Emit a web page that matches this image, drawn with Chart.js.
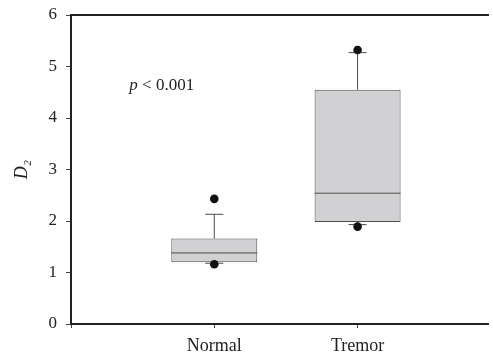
<!DOCTYPE html>
<html>
<head>
<meta charset="utf-8">
<script src="https://cdn.jsdelivr.net/npm/chart.js@4.4.1/dist/chart.umd.min.js"></script>
<style>
  html, body { margin: 0; padding: 0; background: #fff; }
  #wrap { width: 493px; height: 353px; }
</style>
</head>
<body>
<div id="wrap"><canvas id="chart"></canvas></div>
<script>
// box plot summary
const categories = ['Normal', 'Tremor'];
const q1 = [1.20, 1.98];
const median = [1.38, 2.54];
const q3 = [1.66, 4.55];
const whiskerLow = [1.18, 1.93];
const whiskerHigh = [2.13, 5.27];
const outliersLow = [1.16, 1.89];
const outliersHigh = [2.43, 5.32];
const yTicks = [0, 1, 2, 3, 4, 5, 6];

const BOX_HALF = 0.3;
const CAP_HALF = 0.063;
const X_MAX = 2.915;
const INK = '#222';
const LINE = '#4d4d4d';
const SERIF = '"Liberation Serif", "Times New Roman", serif';

// whiskers, caps and medians as one broken line
const segments = [];
categories.forEach((c, i) => {
  const x = i + 1;
  segments.push(
    { x: x - BOX_HALF, y: median[i] }, { x: x + BOX_HALF, y: median[i] }, { x: x, y: null },
    { x: x, y: q3[i] }, { x: x, y: whiskerHigh[i] }, { x: x, y: null },
    { x: x - CAP_HALF, y: whiskerHigh[i] }, { x: x + CAP_HALF, y: whiskerHigh[i] }, { x: x, y: null },
    { x: x, y: q1[i] }, { x: x, y: whiskerLow[i] }, { x: x, y: null },
    { x: x - CAP_HALF, y: whiskerLow[i] }, { x: x + CAP_HALF, y: whiskerLow[i] }, { x: x, y: null }
  );
});

const outlierPoints = [];
categories.forEach((c, i) => {
  outlierPoints.push({ x: i + 1, y: outliersLow[i] });
  outlierPoints.push({ x: i + 1, y: outliersHigh[i] });
});

// "p < 0.001" note, placed in data units
const noteAt = { x: 0.407, y: 4.545 };
const notePlugin = {
  id: 'note',
  afterDatasetsDraw(chart) {
    const { ctx, scales } = chart;
    const px = scales.x.getPixelForValue(noteAt.x);
    const py = scales.y.getPixelForValue(noteAt.y);
    ctx.save();
    ctx.fillStyle = INK;
    ctx.textBaseline = 'alphabetic';
    ctx.font = 'italic 17px ' + SERIF;
    ctx.fillText('p', px, py);
    const w = ctx.measureText('p').width;
    ctx.font = '17px ' + SERIF;
    ctx.fillText(' < 0.001', px + w, py);
    ctx.restore();
  }
};

new Chart(document.getElementById('chart'), {
  type: 'bar',
  data: {
    datasets: [
      {
        type: 'scatter',
        data: outlierPoints,
        pointRadius: 4.3,
        pointBackgroundColor: '#111',
        pointBorderColor: '#111',
        pointBorderWidth: 0,
        order: 0
      },
      {
        type: 'line',
        data: segments,
        borderColor: LINE,
        borderWidth: 1,
        pointRadius: 0,
        spanGaps: false,
        fill: false,
        order: 1
      },
      {
        type: 'bar',
        data: categories.map((c, i) => ({ x: i + 1, y: [q1[i], q3[i]] })),
        backgroundColor: '#d1d1d3',
        borderColor: LINE,
        borderWidth: 1,
        borderSkipped: false,
        barPercentage: 0.6,
        categoryPercentage: 1,
        order: 2
      }
    ]
  },
  options: {
    responsive: true,
    maintainAspectRatio: false,
    animation: false,
    layout: { padding: { top: 15, right: 0, left: 0, bottom: 0 } },
    plugins: {
      legend: { display: false },
      tooltip: { enabled: false }
    },
    scales: {
      x: {
        type: 'linear',
        position: 'bottom',
        offset: false,
        min: 0,
        max: X_MAX,
        afterBuildTicks: (scale) => {
          scale.ticks = [0, 1, 2].map(v => ({ value: v }));
        },
        afterFit: (scale) => {
          scale.height = 29;
          scale.paddingLeft = 0;
          scale.paddingRight = 0;
        },
        ticks: {
          autoSkip: false,
          maxRotation: 0,
          padding: 7,
          color: INK,
          font: { family: SERIF, size: 18 },
          callback: (v) => ['', ...categories][v]
        },
        grid: {
          display: true,
          offset: false,
          drawOnChartArea: false,
          drawTicks: true,
          tickLength: 4,
          color: '#444',
          lineWidth: 1
        },
        border: { display: true, color: INK, width: 2 }
      },
      top: {
        type: 'linear',
        position: 'top',
        offset: false,
        min: 0,
        max: X_MAX,
        afterFit: (scale) => {
          scale.height = 0;
          scale.paddingLeft = 0;
          scale.paddingRight = 0;
        },
        ticks: { display: false },
        grid: { display: false, offset: false },
        border: { display: true, color: INK, width: 2 }
      },
      y: {
        min: 0,
        max: 6,
        afterBuildTicks: (scale) => {
          scale.ticks = yTicks.map(v => ({ value: v }));
        },
        afterFit: (scale) => {
          scale.width = 71;
          scale.paddingTop = 0;
          scale.paddingBottom = 0;
        },
        ticks: {
          padding: 9,
          color: INK,
          font: { family: SERIF, size: 17 }
        },
        grid: {
          display: true,
          drawOnChartArea: false,
          drawTicks: true,
          tickLength: 5,
          color: '#444',
          lineWidth: 1
        },
        border: { display: true, color: INK, width: 2 },
        title: {
          display: true,
          text: 'D₂',
          color: INK,
          padding: { top: 11, bottom: 0 },
          font: { family: SERIF, size: 18, style: 'italic' }
        }
      }
    }
  },
  plugins: [notePlugin]
});
</script>
</body>
</html>
